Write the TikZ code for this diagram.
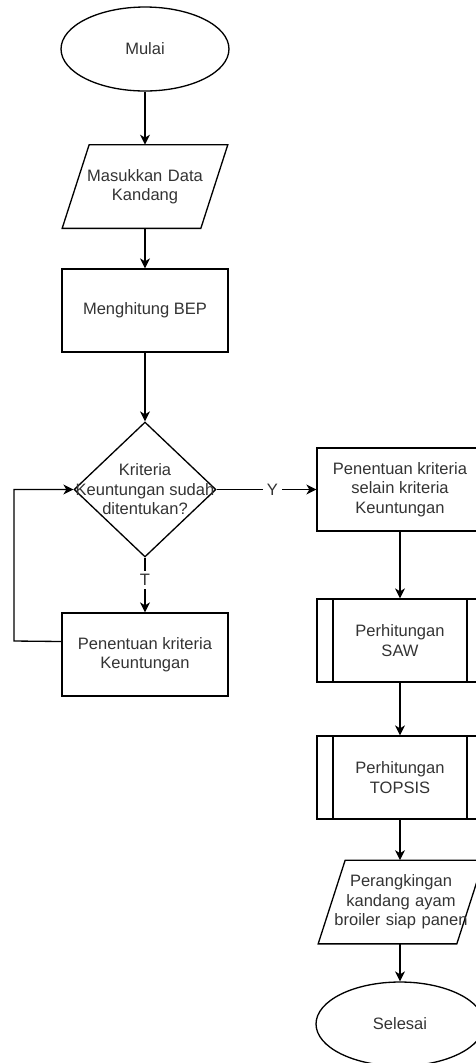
\documentclass[tikz,border=0pt]{standalone}
\usepackage{fontspec}
\setmainfont{Liberation Sans}
\usetikzlibrary{shapes.geometric,arrows.meta}

\begin{document}
\begin{tikzpicture}[x=0.02cm, y=-0.02cm,
	huruf/.style = {font=\fontsize{9.4pt}{11.1pt}\selectfont, text=black!80},
	garis/.style = {draw, line width=0.75pt},
	terminal/.style = {huruf, garis, ellipse, minimum width=3.36cm, minimum height=1.68cm, inner sep=0pt},
	proses/.style = {huruf, garis, rectangle, minimum width=3.32cm, minimum height=1.66cm, inner sep=0pt, align=center},
	subproses/.style = {proses, path picture={
			\draw[line width=0.75pt] ([xshift=0.32cm]path picture bounding box.north west) -- ([xshift=0.32cm]path picture bounding box.south west);
			\draw[line width=0.75pt] ([xshift=-0.32cm]path picture bounding box.north east) -- ([xshift=-0.32cm]path picture bounding box.south east);}},
	io/.style = {huruf, text width=2.76cm, align=center, inner sep=0pt, minimum height=1.66cm,
		append after command={\pgfextra{\draw[garis] ([xshift=0.27cm]\tikzlastnode.north west) -- ([xshift=0.27cm]\tikzlastnode.north east) -- ([xshift=-0.27cm]\tikzlastnode.south east) -- ([xshift=-0.27cm]\tikzlastnode.south west) -- cycle;}}},
	keputusan/.style = {garis, diamond, minimum width=2.84cm, minimum height=2.7cm, inner sep=0pt},
	panah/.style = {line width=0.75pt, -{Stealth[length=0.2cm, width=0.2cm, inset=0.06cm]}},
	label/.style = {huruf, fill=white, inner sep=2pt}]
	\useasboundingbox (0,0) rectangle (476,1063);
	\clip (0,0) rectangle (476,1063);

	\node[terminal] (mulai) at (145,49) {Mulai};
	\node[io] (masuk) at (145,186.5) {Masukkan Data\\Kandang};
	\node[proses] (bep) at (145,310.5) {Menghitung BEP};
	\node[keputusan] (krit) at (145,489.5) {};
	\node[huruf, align=center, inner sep=0pt] (kritteks) at (krit) {Kriteria\\Keuntungan sudah\\ditentukan?};
	\node[proses] (untung) at (145,654.5) {Penentuan kriteria\\Keuntungan};
	\coordinate (balik) at (14,641);

	\node[proses] (selain) at (400,489.5) {Penentuan kriteria\\selain kriteria\\Keuntungan};
	\node[subproses] (saw) at (400,640.5) {Perhitungan\\SAW};
	\node[subproses] (topsis) at (400,777.5) {Perhitungan\\TOPSIS};
	\node[io] (rangking) at (401,902) {Perangkingan\\kandang ayam\\broiler siap panen};
	\node[terminal] (selesai) at (400,1024) {Selesai};

	\draw[panah] (mulai) -- (masuk);
	\draw[panah] (masuk) -- (bep);
	\draw[panah] (bep) -- (krit);
	\draw[panah] (krit.east) -- node[label, pos=0.56] (ya) {Y} (selain.west);
	\draw[panah] (krit.south) -- node[label, pos=0.41] (tidak) {T} (untung.north);
	\draw[panah] ([yshift=0.26cm]untung.west) -- (balik) |- (krit.west);
	\draw[panah] (selain) -- (saw);
	\draw[panah] (saw) -- (topsis);
	\draw[panah] (topsis.south) -- (topsis.south |- rangking.north);
	\draw[panah] (rangking.south -| selesai.north) -- (selesai.north);
\end{tikzpicture}
\end{document}
